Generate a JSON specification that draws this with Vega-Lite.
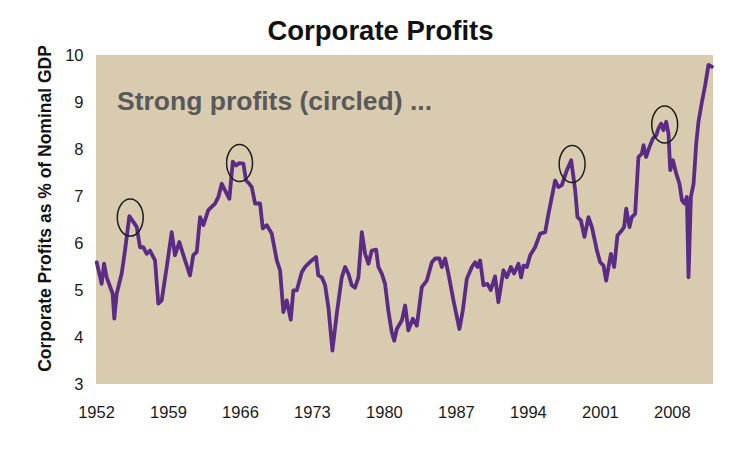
{
  "$schema": "https://vega.github.io/schema/vega-lite/v6.json",
  "width": 617,
  "height": 329,
  "autosize": {"type": "none"},
  "padding": {"left": 96, "top": 55, "right": 36, "bottom": 70},
  "background": "white",
  "config": {
    "view": {"fill": "#d9cbb0", "stroke": null},
    "axis": {"domain": false, "ticks": false, "grid": false, "labelColor": "#1a1a1a", "labelFont": "Liberation Sans", "labelFontSize": 16.5, "labelFlush": false}
  },
  "title": {
    "text": "Corporate Profits",
    "font": "Liberation Sans",
    "fontSize": 27.5,
    "fontWeight": "bold",
    "color": "#111111",
    "anchor": "middle",
    "dx": -24,
    "dy": 31,
    "baseline": "alphabetic",
    "offset": 8
  },
  "datasets": {
    "profits": [
      {"year": 1952.07, "value": 5.59}, {"year": 1952.55, "value": 5.13}, {"year": 1952.78, "value": 5.56},
      {"year": 1953.04, "value": 5.27}, {"year": 1953.62, "value": 4.92}, {"year": 1953.78, "value": 4.39},
      {"year": 1954.01, "value": 4.92}, {"year": 1954.5, "value": 5.35}, {"year": 1954.82, "value": 5.84},
      {"year": 1955.24, "value": 6.57}, {"year": 1955.63, "value": 6.45}, {"year": 1955.96, "value": 6.34},
      {"year": 1956.28, "value": 5.91}, {"year": 1956.6, "value": 5.91}, {"year": 1956.93, "value": 5.77},
      {"year": 1957.25, "value": 5.84}, {"year": 1957.74, "value": 5.63}, {"year": 1958.06, "value": 4.71},
      {"year": 1958.39, "value": 4.78}, {"year": 1958.88, "value": 5.49}, {"year": 1959.36, "value": 6.23},
      {"year": 1959.68, "value": 5.74}, {"year": 1960.1, "value": 6.02}, {"year": 1960.66, "value": 5.63},
      {"year": 1961.14, "value": 5.31}, {"year": 1961.46, "value": 5.74}, {"year": 1961.8, "value": 5.81},
      {"year": 1962.12, "value": 6.55}, {"year": 1962.44, "value": 6.38}, {"year": 1962.92, "value": 6.7},
      {"year": 1963.25, "value": 6.77}, {"year": 1963.58, "value": 6.84}, {"year": 1963.9, "value": 6.98},
      {"year": 1964.23, "value": 7.26}, {"year": 1964.55, "value": 7.12}, {"year": 1964.97, "value": 6.94},
      {"year": 1965.3, "value": 7.73}, {"year": 1965.62, "value": 7.65}, {"year": 1965.94, "value": 7.7},
      {"year": 1966.33, "value": 7.69}, {"year": 1966.59, "value": 7.33}, {"year": 1966.91, "value": 7.26},
      {"year": 1967.15, "value": 7.19}, {"year": 1967.47, "value": 6.84}, {"year": 1967.95, "value": 6.84},
      {"year": 1968.22, "value": 6.31}, {"year": 1968.61, "value": 6.38}, {"year": 1969.09, "value": 6.2},
      {"year": 1969.58, "value": 5.63}, {"year": 1969.9, "value": 5.42}, {"year": 1970.22, "value": 4.53},
      {"year": 1970.55, "value": 4.78}, {"year": 1970.94, "value": 4.37}, {"year": 1971.19, "value": 4.99},
      {"year": 1971.52, "value": 4.99}, {"year": 1972.01, "value": 5.38}, {"year": 1972.33, "value": 5.49},
      {"year": 1972.65, "value": 5.56}, {"year": 1972.98, "value": 5.63}, {"year": 1973.4, "value": 5.7},
      {"year": 1973.62, "value": 5.31}, {"year": 1973.96, "value": 5.27}, {"year": 1974.28, "value": 5.1},
      {"year": 1974.6, "value": 4.63}, {"year": 1974.99, "value": 3.71}, {"year": 1975.41, "value": 4.49},
      {"year": 1975.9, "value": 5.27}, {"year": 1976.22, "value": 5.49}, {"year": 1976.54, "value": 5.35},
      {"year": 1976.87, "value": 5.1}, {"year": 1977.19, "value": 5.05}, {"year": 1977.52, "value": 5.27},
      {"year": 1977.85, "value": 6.23}, {"year": 1978.17, "value": 5.77}, {"year": 1978.49, "value": 5.56},
      {"year": 1978.82, "value": 5.84}, {"year": 1979.24, "value": 5.86}, {"year": 1979.46, "value": 5.49},
      {"year": 1979.79, "value": 5.35}, {"year": 1980.11, "value": 5.13}, {"year": 1980.43, "value": 4.56},
      {"year": 1980.76, "value": 4.1}, {"year": 1981.0, "value": 3.92}, {"year": 1981.25, "value": 4.17},
      {"year": 1981.74, "value": 4.35}, {"year": 1982.06, "value": 4.67}, {"year": 1982.38, "value": 4.14},
      {"year": 1982.81, "value": 4.39}, {"year": 1983.2, "value": 4.24}, {"year": 1983.68, "value": 5.06},
      {"year": 1984.17, "value": 5.2}, {"year": 1984.66, "value": 5.59}, {"year": 1984.98, "value": 5.67},
      {"year": 1985.39, "value": 5.67}, {"year": 1985.63, "value": 5.49}, {"year": 1985.95, "value": 5.67},
      {"year": 1986.27, "value": 5.35}, {"year": 1986.76, "value": 4.78}, {"year": 1987.34, "value": 4.17},
      {"year": 1987.67, "value": 4.56}, {"year": 1988.06, "value": 5.24}, {"year": 1988.55, "value": 5.49},
      {"year": 1988.87, "value": 5.59}, {"year": 1989.09, "value": 5.49}, {"year": 1989.35, "value": 5.63},
      {"year": 1989.68, "value": 5.1}, {"year": 1990.06, "value": 5.13}, {"year": 1990.39, "value": 5.0},
      {"year": 1990.81, "value": 5.29}, {"year": 1991.13, "value": 4.74}, {"year": 1991.62, "value": 5.42},
      {"year": 1991.95, "value": 5.27}, {"year": 1992.34, "value": 5.49}, {"year": 1992.66, "value": 5.35},
      {"year": 1993.08, "value": 5.56}, {"year": 1993.34, "value": 5.27}, {"year": 1993.57, "value": 5.52},
      {"year": 1993.9, "value": 5.49}, {"year": 1994.22, "value": 5.74}, {"year": 1994.7, "value": 5.91},
      {"year": 1995.19, "value": 6.2}, {"year": 1995.68, "value": 6.23}, {"year": 1996.0, "value": 6.62},
      {"year": 1996.33, "value": 6.98}, {"year": 1996.65, "value": 7.33}, {"year": 1996.97, "value": 7.19},
      {"year": 1997.3, "value": 7.23}, {"year": 1997.79, "value": 7.55}, {"year": 1998.21, "value": 7.76},
      {"year": 1998.6, "value": 7.12}, {"year": 1998.82, "value": 6.55}, {"year": 1999.15, "value": 6.48},
      {"year": 1999.5, "value": 6.13}, {"year": 1999.89, "value": 6.55}, {"year": 2000.22, "value": 6.34},
      {"year": 2000.54, "value": 6.02}, {"year": 2000.71, "value": 5.84}, {"year": 2001.03, "value": 5.59},
      {"year": 2001.35, "value": 5.52}, {"year": 2001.61, "value": 5.2}, {"year": 2001.84, "value": 5.49},
      {"year": 2002.07, "value": 5.77}, {"year": 2002.39, "value": 5.49}, {"year": 2002.71, "value": 6.16},
      {"year": 2003.14, "value": 6.27}, {"year": 2003.36, "value": 6.34}, {"year": 2003.56, "value": 6.73},
      {"year": 2003.88, "value": 6.34}, {"year": 2004.11, "value": 6.55}, {"year": 2004.43, "value": 6.62},
      {"year": 2004.75, "value": 7.83}, {"year": 2005.08, "value": 7.9}, {"year": 2005.24, "value": 8.08},
      {"year": 2005.5, "value": 7.83}, {"year": 2005.82, "value": 8.04}, {"year": 2006.15, "value": 8.22},
      {"year": 2006.47, "value": 8.29}, {"year": 2006.7, "value": 8.44}, {"year": 2006.96, "value": 8.54},
      {"year": 2007.18, "value": 8.4}, {"year": 2007.45, "value": 8.58}, {"year": 2007.67, "value": 8.33},
      {"year": 2007.84, "value": 7.55}, {"year": 2008.1, "value": 7.76}, {"year": 2008.42, "value": 7.48},
      {"year": 2008.74, "value": 7.26}, {"year": 2008.98, "value": 6.91}, {"year": 2009.23, "value": 6.84},
      {"year": 2009.46, "value": 6.98}, {"year": 2009.62, "value": 5.27}, {"year": 2009.85, "value": 6.98},
      {"year": 2010.11, "value": 7.26}, {"year": 2010.37, "value": 8.12}, {"year": 2010.59, "value": 8.58},
      {"year": 2010.92, "value": 9.0}, {"year": 2011.24, "value": 9.36}, {"year": 2011.56, "value": 9.79},
      {"year": 2011.89, "value": 9.75}
    ],
    "peaks": [
      {"year": 1955.33, "value": 6.54},
      {"year": 1965.96, "value": 7.7},
      {"year": 1998.3, "value": 7.68},
      {"year": 2007.3, "value": 8.52}
    ],
    "note": [
      {"year": 1954.04, "value": 8.83, "label": "Strong profits (circled) ..."}
    ]
  },
  "encoding": {
    "x": {
      "field": "year",
      "type": "quantitative",
      "scale": {"domain": [1952, 2012], "nice": false, "zero": false},
      "axis": {"values": [1952, 1959, 1966, 1973, 1980, 1987, 1994, 2001, 2008], "format": "d", "title": null, "labelPadding": 20, "labelBaseline": "top"}
    },
    "y": {
      "field": "value",
      "type": "quantitative",
      "scale": {"domain": [3, 10], "nice": false, "zero": false},
      "axis": {
        "values": [3, 4, 5, 6, 7, 8, 9, 10],
        "labelPadding": 13,
        "title": "Corporate Profits as % of Nominal GDP",
        "titleFont": "Liberation Sans",
        "titleFontSize": 17.5,
        "titleFontWeight": "bold",
        "titleColor": "#111111",
        "titleAngle": -90,
        "titleAlign": "center",
        "titleBaseline": "middle",
        "titleX": -51,
        "titleY": 153
      }
    }
  },
  "layer": [
    {
      "data": {"name": "profits"},
      "mark": {"type": "line", "color": "#5b2c86", "strokeWidth": 3.8, "strokeJoin": "round", "strokeCap": "round"}
    },
    {
      "data": {"name": "peaks"},
      "mark": {"type": "point", "shape": "M-0.7,0A0.7,1 0 1,1 0.7,0A0.7,1 0 1,1 -0.7,0Z", "size": 1369, "filled": false, "stroke": "#1e1e1e", "strokeWidth": 1.5, "opacity": 1}
    },
    {
      "data": {"name": "note"},
      "mark": {"type": "text", "align": "left", "baseline": "alphabetic", "font": "Liberation Sans", "fontWeight": "bold", "fontSize": 26.5, "color": "#595959"},
      "encoding": {"text": {"field": "label", "type": "nominal"}}
    }
  ]
}
